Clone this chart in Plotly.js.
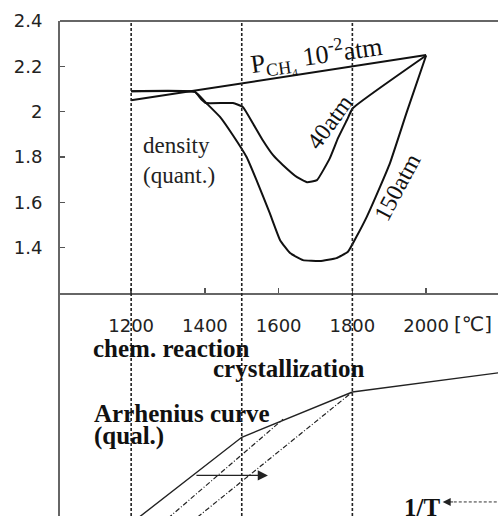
<!DOCTYPE html>
<html>
<head>
<meta charset="utf-8">
<script src="https://cdn.plot.ly/plotly-3.0.1.min.js"></script>
<style>html,body{margin:0;padding:0;background:#fff;}#chart{width:498px;height:516px;}</style>
</head>
<body>
<div id="chart"></div>
<script>
// ---- Upper panel: density (quant.) vs temperature [°C] ----
var p001_x = [1200, 2000];
var p001_y = [2.05, 2.25];

var p40_x = [1200, 1373, 1390, 1403, 1476, 1503, 1530, 1557, 1585, 1612, 1650, 1677, 1704, 1739, 1761, 1785, 1801, 2000];
var p40_y = [2.09, 2.087, 2.055, 2.038, 2.038, 2.021, 1.949, 1.874, 1.808, 1.764, 1.711, 1.689, 1.698, 1.795, 1.883, 1.962, 2.015, 2.248];

var p150_x = [1200, 1373, 1405, 1441, 1476, 1513, 1540, 1576, 1604, 1631, 1666, 1712, 1757, 1788, 1811, 1839, 1875, 1902, 1948, 2000];
var p150_y = [2.09, 2.087, 2.036, 1.977, 1.896, 1.800, 1.698, 1.552, 1.433, 1.376, 1.345, 1.341, 1.354, 1.382, 1.448, 1.536, 1.668, 1.773, 2.000, 2.248];

var xTicks = [1200, 1400, 1600, 1800, 2000];
var xTickText = ['1200', '1400', '1600', '1800', '2000'];
var yTicks = [1.4, 1.6, 1.8, 2.0, 2.2, 2.4];
var yTickText = ['1.4', '1.6', '1.8', '2', '2.2', '2.4'];
var regimeLines = [1200, 1500, 1800];

// ---- Lower panel: Arrhenius curve (qual.), schematic units ----
var arr_x = [1200, 1500, 1800, 2200];
var arr_y = [-0.33, 3.53, 5.56, 6.43];
var dd1_x = [1300, 1612];
var dd1_y = [-0.10, 4.34];
var dd2_x = [1380, 1800];
var dd2_y = [-0.05, 5.56];
var shift_x = [1373, 1571];
var shift_y = 1.82;
var invT_x = [2045, 2200];
var invT_y = 0.63;

var serif = 'Liberation Serif, Times New Roman, serif';
var sans = 'DejaVu Sans, sans-serif';

var traces = [
  {x: p001_x, y: p001_y, mode: 'lines', line: {color: '#111', width: 2}, xaxis: 'x', yaxis: 'y', hoverinfo: 'skip'},
  {x: p40_x, y: p40_y, mode: 'lines', line: {color: '#111', width: 2, shape: 'spline', smoothing: 0.35}, xaxis: 'x', yaxis: 'y', hoverinfo: 'skip'},
  {x: p150_x, y: p150_y, mode: 'lines', line: {color: '#111', width: 2, shape: 'spline', smoothing: 0.35}, xaxis: 'x', yaxis: 'y', hoverinfo: 'skip'},
  {x: arr_x, y: arr_y, mode: 'lines', line: {color: '#222', width: 1.4}, xaxis: 'x', yaxis: 'y2', hoverinfo: 'skip'},
  {x: dd1_x, y: dd1_y, mode: 'lines', line: {color: '#222', width: 1.2, dash: '5px,2px,1px,2px'}, xaxis: 'x', yaxis: 'y2', hoverinfo: 'skip'},
  {x: dd2_x, y: dd2_y, mode: 'lines', line: {color: '#222', width: 1.2, dash: '5px,2px,1px,2px'}, xaxis: 'x', yaxis: 'y2', hoverinfo: 'skip'},
  {x: [invT_x[0] + 30, invT_x[1]], y: [invT_y, invT_y], mode: 'lines', line: {color: '#333', width: 1, dash: '3px,2px'}, xaxis: 'x', yaxis: 'y2', hoverinfo: 'skip'}
];

var shapes = regimeLines.map(function (v) {
  return {type: 'line', xref: 'x', yref: 'paper', x0: v, x1: v, y0: 0, y1: 1,
          line: {color: '#222', width: 1.6, dash: '3px,2px'}};
});
shapes.push({type: 'line', xref: 'paper', yref: 'paper', x0: 0, x1: 1, y0: 1, y1: 1,
             line: {color: '#666', width: 2}});

var annotations = [
  {text: 'P<sub>CH₄</sub> 10<sup>-2</sup>atm', x: 1704, y: 2.250, xref: 'x', yref: 'y', showarrow: false, textangle: -8,
   font: {family: serif, size: 26, color: '#111'}},
  {text: '40atm', x: 1739, y: 1.953, xref: 'x', yref: 'y', showarrow: false, textangle: -54,
   font: {family: serif, size: 24, color: '#111'}},
  {text: '150atm', x: 1922, y: 1.668, xref: 'x', yref: 'y', showarrow: false, textangle: -62,
   font: {family: serif, size: 24, color: '#111'}},
  {text: 'density<br>(quant.)', x: 1227, y: 1.786, xref: 'x', yref: 'y', showarrow: false, xanchor: 'left', align: 'left',
   font: {family: serif, size: 23, color: '#222'}},
  {text: '[℃]', x: 2128, y: 0.388, xref: 'x', yref: 'paper', showarrow: false,
   font: {family: sans, size: 20, color: '#222'}},
  {text: '<b>chem. reaction</b>', x: 1091, y: 7.53, xref: 'x', yref: 'y2', showarrow: false, xanchor: 'left',
   font: {family: serif, size: 25, color: '#111'}},
  {text: '<b>crystallization</b>', x: 1416, y: 6.61, xref: 'x', yref: 'y2', showarrow: false, xanchor: 'left',
   font: {family: serif, size: 25, color: '#111'}},
  {text: '<b>Arrhenius curve</b>', x: 1094, y: 4.59, xref: 'x', yref: 'y2', showarrow: false, xanchor: 'left',
   font: {family: serif, size: 25, color: '#111'}},
  {text: '<b>(qual.)</b>', x: 1094, y: 3.59, xref: 'x', yref: 'y2', showarrow: false, xanchor: 'left',
   font: {family: serif, size: 25, color: '#111'}},
  {text: '<b>1/T</b>', x: 1989, y: 0.38, xref: 'x', yref: 'y2', showarrow: false,
   font: {family: serif, size: 25, color: '#111'}},
  {text: '', x: shift_x[1], y: shift_y, ax: shift_x[0], ay: shift_y, xref: 'x', yref: 'y2', axref: 'x', ayref: 'y2',
   showarrow: true, arrowhead: 2, arrowsize: 1.7, arrowwidth: 1.2, arrowcolor: '#222', standoff: 0},
  {text: '', x: invT_x[0], y: invT_y, ax: invT_x[0] + 32, ay: invT_y, xref: 'x', yref: 'y2', axref: 'x', ayref: 'y2',
   showarrow: true, arrowhead: 2, arrowsize: 1.6, arrowwidth: 1, arrowcolor: '#222', standoff: 0}
];

var layout = {
  width: 498, height: 516,
  margin: {l: 60, r: 0, t: 21, b: 0},
  paper_bgcolor: '#fff', plot_bgcolor: 'rgba(0,0,0,0)',
  showlegend: false,
  xaxis: {range: [1007, 2195], anchor: 'y', tickvals: xTicks, ticktext: xTickText,
          ticks: 'inside', ticklen: 5, tickcolor: '#555', tickwidth: 1.5,
          showline: true, linecolor: '#666', linewidth: 2, showgrid: false, zeroline: false,
          ticklabelstandoff: 15, tickfont: {family: sans, size: 18, color: '#222'}},
  yaxis: {domain: [0.4505, 1], range: [1.2, 2.4], anchor: 'x', tickvals: yTicks, ticktext: yTickText,
          ticks: 'inside', ticklen: 5, tickcolor: '#555', tickwidth: 1.5,
          showline: true, linecolor: '#666', linewidth: 2, showgrid: false, zeroline: false,
          ticklabelstandoff: 12, tickfont: {family: sans, size: 18, color: '#222'}},
  yaxis2: {domain: [0, 0.4505], range: [0, 10], anchor: 'x', showticklabels: false, ticks: '',
           showline: true, linecolor: '#666', linewidth: 2, showgrid: false, zeroline: false},
  shapes: shapes,
  annotations: annotations
};

Plotly.newPlot('chart', traces, layout, {displayModeBar: false, staticPlot: true});
</script>
</body>
</html>
